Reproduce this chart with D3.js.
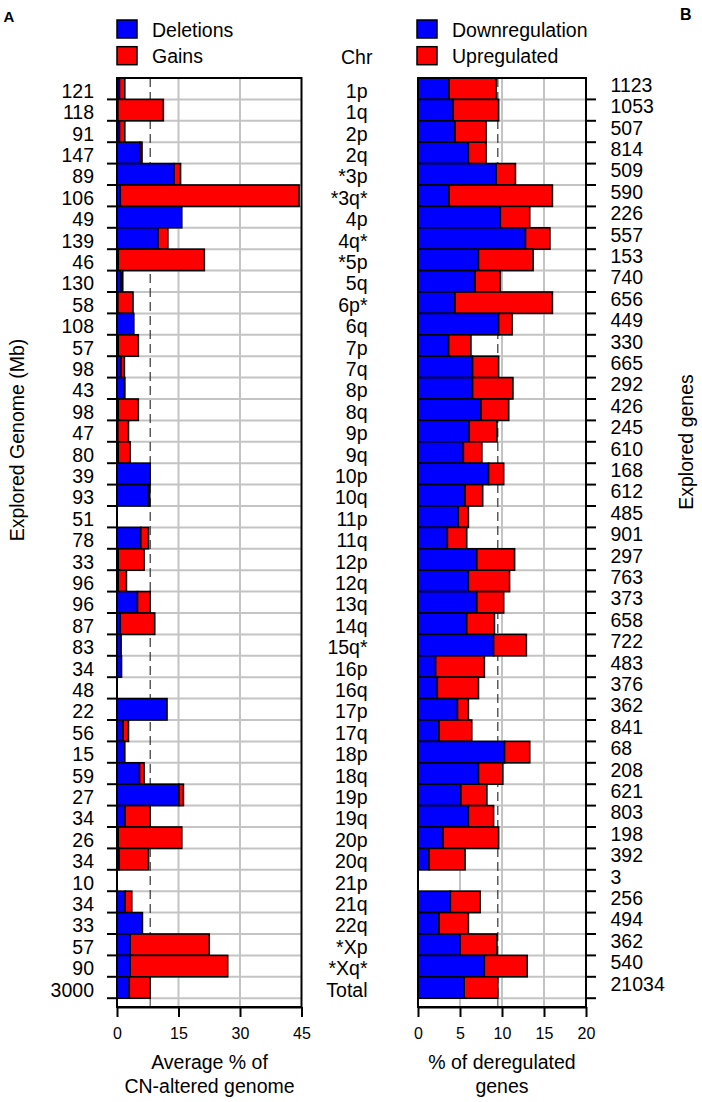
<!DOCTYPE html>
<html><head><meta charset="utf-8">
<script src="https://cdn.jsdelivr.net/npm/d3@7"></script>
<style>body{margin:0;background:#fff;} text{font-family:"Liberation Sans",Arial,sans-serif;}</style>
</head><body>
<script>
const chromosomes = ["1p","1q","2p","2q","*3p","*3q*","4p","4q*","*5p","5q","6p*","6q","7p","7q","8p","8q","9p","9q","10p","10q","11p","11q","12p","12q","13q","14q","15q*","16p","16q","17p","17q","18p","18q","19p","19q","20p","20q","21p","21q","22q","*Xp","*Xq*","Total"];
const genomeMb = ["121","118","91","147","89","106","49","139","46","130","58","108","57","98","43","98","47","80","39","93","51","78","33","96","96","87","83","34","48","22","56","15","59","27","34","26","34","10","34","33","57","90","3000"];
const exploredGenes = ["1123","1053","507","814","509","590","226","557","153","740","656","449","330","665","292","426","245","610","168","612","485","901","297","763","373","658","722","483","376","362","841","68","208","621","803","198","392","3","256","494","362","540","21034"];
const deletions = [0.6,0.2,0.6,5.6,13.9,0.8,15.8,10.0,0.3,1.0,0.2,4.1,0.3,1.0,1.8,0.3,0.2,0.3,8.1,7.7,0,5.8,0.3,0.3,5.0,0.8,1.0,1.1,0,12.2,1.5,1.9,5.5,15.1,2.0,0.3,0.5,0,2.0,6.2,3.2,3.2,3.0];
const gains = [1.3,11.1,1.3,0.5,1.6,43.6,0,2.4,21.0,0.4,3.7,0,4.9,0.8,0.1,4.9,2.6,2.9,0,0.3,0,1.9,6.3,2.0,3.1,8.4,0,0,0,0,1.3,0,1.1,1.1,6.1,15.5,7.2,0,1.6,0,19.3,23.8,5.1];
const downregulation = [3.7,4.2,4.4,6.0,9.3,3.7,9.8,12.8,7.2,6.8,4.4,9.6,3.65,6.5,6.5,7.5,6.1,5.4,8.4,5.6,4.8,3.5,7.0,6.0,7.0,5.8,9.0,2.1,2.3,4.7,2.5,10.3,7.2,5.1,6.0,3.0,1.3,0,3.85,2.5,5.0,7.9,5.5];
const upregulated = [5.6,5.4,3.7,2.1,2.3,12.3,3.5,2.9,6.5,3.0,11.6,1.6,2.65,3.1,4.8,3.3,3.3,2.2,1.8,2.1,1.2,2.3,4.5,4.9,3.2,3.3,3.9,5.8,4.9,1.3,3.9,3.0,2.9,3.1,3.0,6.6,4.3,0,3.55,3.5,4.4,5.1,4.0];
const leftTicks = [0,15,30,45];
const rightTicks = [0,5,10,15,20];

const W = 702, H = 1102;
const FS = 19.5;
const svg = d3.select("body").append("svg").attr("width", W).attr("height", H);
const plotTop = 78, rowsBottom = 998.2, boxBottom = 1007;
const y = d3.scaleBand().domain(chromosomes).range([plotTop, rowsBottom]).padding(0);
const xL = d3.scaleLinear().domain([0,45]).range([117,301.5]);
const xR = d3.scaleLinear().domain([0,20]).range([418,586]);
const BLUE = "#0000ff", RED = "#ff0000", GRID = "#c4c4c4";

function panel(x, ticks, s1, s2, gridTicks) {
  const g = svg.append("g");
  g.selectAll(".vg").data(gridTicks).enter().append("line")
    .attr("x1", d => x(d)).attr("x2", d => x(d)).attr("y1", plotTop).attr("y2", boxBottom)
    .attr("stroke", GRID).attr("stroke-width", 2);
  g.selectAll(".hg").data(chromosomes).enter().append("line")
    .attr("x1", x.range()[0]).attr("x2", x.range()[1])
    .attr("y1", d => y(d) + y.bandwidth()).attr("y2", d => y(d) + y.bandwidth())
    .attr("stroke", GRID).attr("stroke-width", 2);
  const ref = s1[s1.length-1] + s2[s2.length-1];
  g.append("line").attr("x1", x(ref)).attr("x2", x(ref)).attr("y1", plotTop).attr("y2", rowsBottom)
    .attr("stroke", "#333").attr("stroke-width", 1.2).attr("stroke-dasharray", "9,5");
  g.append("line").attr("x1", x(ref)).attr("x2", x(ref)).attr("y1", rowsBottom).attr("y2", boxBottom)
    .attr("stroke", "#555").attr("stroke-width", 1.2);
  chromosomes.forEach((c, i) => {
    if (s1[i] > 0) g.append("rect").attr("x", x(0)).attr("y", y(c)).attr("width", x(s1[i]) - x(0)).attr("height", y.bandwidth())
      .attr("fill", BLUE).attr("stroke", "#000").attr("stroke-width", 1.6);
    if (s2[i] > 0) g.append("rect").attr("x", x(s1[i])).attr("y", y(c)).attr("width", x(s1[i] + s2[i]) - x(s1[i])).attr("height", y.bandwidth())
      .attr("fill", RED).attr("stroke", "#000").attr("stroke-width", 1.6);
  });
  g.append("rect").attr("x", x.range()[0]).attr("y", plotTop).attr("width", x.range()[1] - x.range()[0]).attr("height", boxBottom - plotTop)
    .attr("fill", "none").attr("stroke", "#000").attr("stroke-width", 2);
  const ax = svg.append("g").attr("transform", `translate(0,${boxBottom})`)
    .call(d3.axisBottom(x).tickValues(ticks).tickSize(10).tickPadding(10.5).tickSizeOuter(0));
  ax.select(".domain").attr("stroke-width", 2);
  ax.selectAll(".tick line").attr("stroke-width", 2);
  ax.selectAll("text").attr("font-size", 16).attr("font-family", "Liberation Sans, Arial, sans-serif").attr("fill", "#000");
}
panel(xL, leftTicks, deletions, gains, [15,30]);
panel(xR, rightTicks, downregulation, upregulated, [5,10,15]);

const gl = svg.append("g");
gl.selectAll("line").data(chromosomes).enter().append("line")
  .attr("x1", 107).attr("x2", 117).attr("y1", d => y(d) + y.bandwidth()).attr("y2", d => y(d) + y.bandwidth())
  .attr("stroke", "#000").attr("stroke-width", 2);
gl.selectAll("text").data(chromosomes).enter().append("text")
  .attr("x", 94).attr("y", (d) => y(d) + y.bandwidth()/2 + 9).attr("text-anchor", "end").attr("font-size", FS)
  .text((d, i) => genomeMb[i]);
const gr = svg.append("g");
gr.selectAll("line").data(chromosomes).enter().append("line")
  .attr("x1", 586).attr("x2", 596).attr("y1", d => y(d) + y.bandwidth()).attr("y2", d => y(d) + y.bandwidth())
  .attr("stroke", "#000").attr("stroke-width", 2);
gr.selectAll("text").data(chromosomes).enter().append("text")
  .attr("x", 610.5).attr("y", (d) => y(d) + y.bandwidth()/2 + 3).attr("text-anchor", "start").attr("font-size", FS)
  .text((d, i) => exploredGenes[i]);
svg.append("g").selectAll("text").data(chromosomes).enter().append("text")
  .attr("x", 367.5).attr("y", d => y(d) + y.bandwidth()/2 + 9).attr("text-anchor", "end").attr("font-size", FS)
  .text(d => d);
svg.append("text").attr("x", 341).attr("y", 64).attr("text-anchor", "start").attr("font-size", FS).text("Chr");

function legend(x0, items) {
  items.forEach((it, i) => {
    svg.append("rect").attr("x", x0).attr("y", 20 + i*26.7).attr("width", 20).attr("height", 18)
      .attr("fill", it[1]).attr("stroke", "#000").attr("stroke-width", 1.5);
    svg.append("text").attr("x", x0 + 35).attr("y", 36.7 + i*26.7).attr("font-size", FS).text(it[0]);
  });
}
legend(117, [["Deletions", BLUE], ["Gains", RED]]);
legend(417, [["Downregulation", BLUE], ["Upregulated", RED]]);

svg.append("text").attr("x", 3.5).attr("y", 21.7).attr("font-size", 15).attr("font-weight", "bold").text("A");
svg.append("text").attr("x", 680).attr("y", 20).attr("font-size", 16).attr("font-weight", "bold").text("B");
svg.append("text").attr("transform", "translate(24,440) rotate(-90)").attr("text-anchor", "middle").attr("font-size", FS).text("Explored Genome (Mb)");
svg.append("text").attr("transform", "translate(693,442) rotate(-90)").attr("text-anchor", "middle").attr("font-size", FS).text("Explored genes");
svg.append("text").attr("x", 209.5).attr("y", 1069).attr("text-anchor", "middle").attr("font-size", FS).text("Average % of");
svg.append("text").attr("x", 209.5).attr("y", 1093).attr("text-anchor", "middle").attr("font-size", FS).text("CN-altered genome");
svg.append("text").attr("x", 502).attr("y", 1069).attr("text-anchor", "middle").attr("font-size", FS).text("% of deregulated");
svg.append("text").attr("x", 502).attr("y", 1093).attr("text-anchor", "middle").attr("font-size", FS).text("genes");
</script>
</body></html>
